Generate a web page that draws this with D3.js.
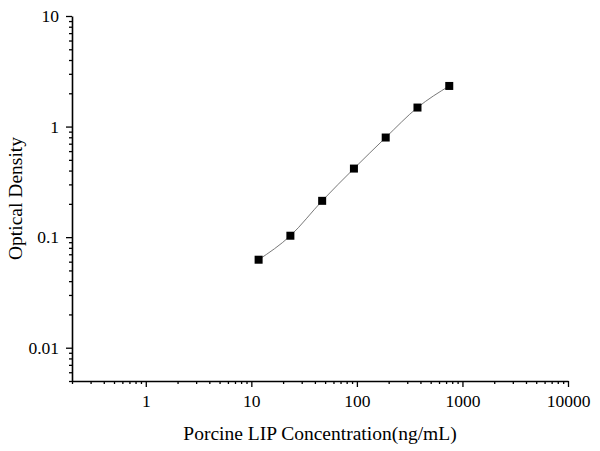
<!DOCTYPE html>
<html>
<head>
<meta charset="utf-8">
<script src="https://cdn.jsdelivr.net/npm/d3@7"></script>
<style>
  body { margin: 0; background: #fff; }
  svg text { font-family: "Liberation Serif", "Times New Roman", serif; fill: #000; }
  .axis path, .axis line { stroke: #000; }
</style>
</head>
<body>
<div id="chart"></div>
<script>
const concentration = [11.72, 23.44, 46.88, 93.75, 187.5, 375, 750];
const opticalDensity = [0.0625, 0.103, 0.213, 0.417, 0.796, 1.486, 2.33];
const xTickValues = [1, 10, 100, 1000, 10000];
const yTickValues = [0.01, 0.1, 1, 10];

const W = 600, H = 451;
const plot = { left: 72, right: 568, top: 16, bottom: 381 };

const svg = d3.select("#chart").append("svg").attr("width", W).attr("height", H);

const x = d3.scaleLog().domain([0.2, 10000]).range([plot.left, plot.right]);
const y = d3.scaleLog().domain([0.005, 10]).range([plot.bottom, plot.top]);

// minor ticks at 2..9 of each decade inside the domain
const minors = (scale) => {
  const [a, b] = scale.domain();
  const out = [];
  for (let e = Math.floor(Math.log10(a)); e <= Math.ceil(Math.log10(b)); e++) {
    for (let m = 2; m <= 9; m++) {
      const v = m * Math.pow(10, e);
      if (v >= a * 0.999 && v <= b * 1.001) out.push(v);
    }
  }
  return out;
};

const fmt = (d) => String(+d.toPrecision(6));

// x axis
const xg = svg.append("g").attr("class", "axis").attr("transform", `translate(0,${plot.bottom})`);
xg.call(d3.axisBottom(x).tickValues(minors(x)).tickSize(3).tickFormat(""));
xg.call((g) => g.select(".domain").remove());
const xMajor = svg.append("g").attr("class", "axis").attr("transform", `translate(0,${plot.bottom})`)
  .call(d3.axisBottom(x).tickValues(xTickValues).tickSize(6).tickSizeOuter(0).tickPadding(8).tickFormat(fmt));
xMajor.select(".domain").attr("stroke-width", 1.6);
xMajor.selectAll("text").style("font-size", "17.5px");

// y axis
const yg = svg.append("g").attr("class", "axis").attr("transform", `translate(${plot.left},0)`);
yg.call(d3.axisLeft(y).tickValues(minors(y)).tickSize(3).tickFormat(""));
yg.call((g) => g.select(".domain").remove());
const yMajor = svg.append("g").attr("class", "axis").attr("transform", `translate(${plot.left},0)`)
  .call(d3.axisLeft(y).tickValues(yTickValues).tickSize(6).tickSizeOuter(0).tickPadding(7).tickFormat(fmt));
yMajor.select(".domain").attr("stroke-width", 1.6);
yMajor.selectAll("text").style("font-size", "17.5px");

svg.selectAll(".axis .tick line").attr("stroke-width", 1.3);

// titles
svg.append("text")
  .attr("x", (plot.left + plot.right) / 2)
  .attr("y", 440)
  .attr("text-anchor", "middle")
  .style("font-size", "19.5px")
  .text("Porcine LIP Concentration(ng/mL)");

svg.append("text")
  .attr("transform", `translate(22,${(plot.top + plot.bottom) / 2}) rotate(-90)`)
  .attr("text-anchor", "middle")
  .style("font-size", "19.5px")
  .text("Optical Density");

// data
const points = concentration.map((c, i) => ({ c, od: opticalDensity[i] }));

svg.append("path")
  .datum(points)
  .attr("fill", "none")
  .attr("stroke", "#555")
  .attr("stroke-width", 0.8)
  .attr("d", d3.line().x((d) => x(d.c)).y((d) => y(d.od)).curve(d3.curveMonotoneX));

const s = 8;
svg.selectAll(".pt")
  .data(points)
  .join("rect")
  .attr("class", "pt")
  .attr("x", (d) => x(d.c) - s / 2)
  .attr("y", (d) => y(d.od) - s / 2)
  .attr("width", s)
  .attr("height", s)
  .attr("fill", "#000");
</script>
</body>
</html>
